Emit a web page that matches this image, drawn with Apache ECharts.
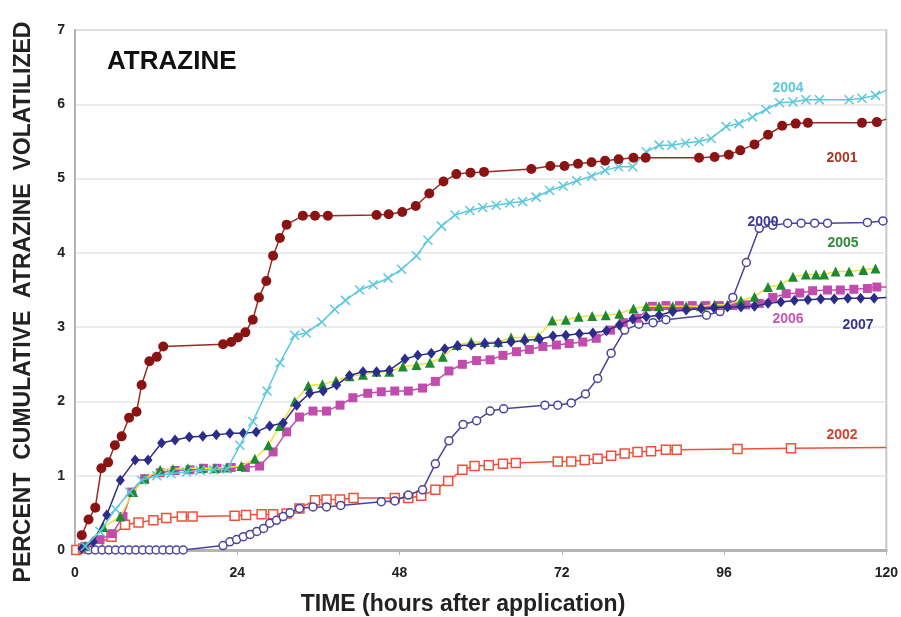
<!DOCTYPE html>
<html><head><meta charset="utf-8">
<script src="https://cdn.jsdelivr.net/npm/echarts@6/dist/echarts.min.js"></script>
<style>html,body{margin:0;padding:0;background:#fff}#c{width:901px;height:617px}</style>
</head><body><div id="c"></div>
<script>
// ---- data (hours after application, percent cumulative volatilized) ----
const xTicks = [0, 24, 48, 72, 96, 120];
const yTicks = [0, 1, 2, 3, 4, 5, 6, 7];

const h2001 = [1.0,2.0,3.0,3.9,4.9,5.9,6.9,8.0,9.1,9.85,11.0,12.1,13.05,21.9,23.1,24.1,25.2,26.3,27.2,28.3,29.3,30.3,31.3,33.7,35.5,37.4,44.6,46.4,48.4,50.4,52.4,54.5,56.4,58.5,60.5,67.5,70.3,72.4,74.4,76.4,78.4,80.4,82.6,84.4,92.3,94.6,96.7,98.4,100.5,102.5,104.6,106.6,108.4,116.4,118.6,120];
const v2001 = [0.2,0.41,0.57,1.1,1.18,1.41,1.53,1.78,1.86,2.22,2.54,2.6,2.74,2.77,2.8,2.86,2.93,3.1,3.4,3.62,3.96,4.2,4.38,4.5,4.5,4.5,4.51,4.52,4.55,4.63,4.8,4.96,5.06,5.08,5.09,5.13,5.17,5.17,5.2,5.22,5.24,5.26,5.28,5.28,5.28,5.29,5.32,5.38,5.46,5.59,5.71,5.74,5.75,5.75,5.76,5.8];

const h2004 = [1.5,3.7,6.0,8.1,9.85,12.1,14.2,16.5,18.5,20.5,22.5,24.4,26.3,28.4,30.3,32.5,34.2,36.5,38.4,40.0,42.1,44.1,46.3,48.3,50.5,52.2,54.2,56.2,58.4,60.3,62.3,64.3,66.2,68.2,70.2,72.2,74.2,76.4,78.4,80.4,82.5,84.5,86.4,88.3,90.3,92.3,94.1,96.3,98.2,100.2,102.2,104.2,106.2,108.1,110.1,114.5,116.4,118.4,120];
const v2004 = [0.05,0.25,0.55,0.78,0.94,1.0,1.03,1.05,1.07,1.08,1.09,1.41,1.73,2.14,2.52,2.89,2.92,3.07,3.24,3.36,3.5,3.57,3.66,3.78,3.96,4.17,4.36,4.51,4.57,4.61,4.64,4.67,4.69,4.75,4.84,4.9,4.97,5.03,5.11,5.16,5.16,5.36,5.45,5.45,5.48,5.5,5.54,5.7,5.74,5.83,5.93,6.02,6.03,6.06,6.06,6.06,6.08,6.12,6.19];

const h2000 = [2,3,4,5,6,7,8,9,10,11,12,13,14,15,16,21.9,22.9,23.9,24.9,25.9,26.9,27.9,28.8,29.8,30.8,31.8,33.2,35.2,37.2,39.3,45.3,47.3,49.3,51.4,53.3,55.3,57.4,59.4,61.4,63.4,69.5,71.4,73.4,75.5,77.3,79.3,81.3,83.4,85.5,87.4,93.4,95.4,97.3,99.3,101.2,103.2,105.4,107.4,109.4,111.3,117.2,119.5,120];
const v2000 = [0,0,0,0,0,0,0,0,0,0,0,0,0,0,0,0.06,0.11,0.14,0.18,0.21,0.25,0.29,0.36,0.4,0.45,0.5,0.56,0.58,0.58,0.6,0.65,0.66,0.74,0.81,1.16,1.47,1.69,1.74,1.87,1.9,1.95,1.95,1.98,2.1,2.31,2.65,2.96,3.04,3.06,3.1,3.16,3.21,3.4,3.87,4.33,4.37,4.4,4.4,4.4,4.4,4.41,4.43,4.44];

const h2002 = [0.2,1.2,3.4,5.4,7.4,9.4,11.6,13.5,15.8,17.4,23.6,25.3,27.6,29.3,31.3,33.2,35.5,37.2,39.2,41.2,47.3,49.3,51.2,53.3,55.2,57.3,59.1,61.2,63.3,65.2,71.4,73.4,75.4,77.3,79.3,81.3,83.2,85.2,87.4,89.0,98.0,105.9,120];
const v2002 = [0,0.02,0.08,0.18,0.34,0.37,0.4,0.43,0.45,0.45,0.46,0.47,0.48,0.48,0.49,0.56,0.67,0.68,0.68,0.7,0.7,0.7,0.73,0.81,0.93,1.08,1.13,1.14,1.16,1.17,1.19,1.19,1.21,1.23,1.27,1.3,1.32,1.33,1.35,1.35,1.36,1.37,1.38];

const h2007 = [1.0,2.7,4.7,6.7,8.9,10.8,12.8,14.8,16.9,18.9,20.9,22.9,24.9,26.8,28.8,30.8,32.8,34.7,36.7,38.7,40.6,42.6,44.6,46.5,48.8,50.7,52.7,54.7,56.6,58.6,60.6,62.6,64.5,66.5,68.7,70.7,72.6,74.6,76.6,78.6,80.5,82.5,84.5,86.4,88.4,90.4,92.6,94.5,96.5,98.5,100.5,102.5,104.4,106.4,108.4,110.3,112.3,114.3,116.2,118.2,120];
const v2007 = [0.02,0.11,0.47,0.94,1.21,1.21,1.44,1.48,1.52,1.53,1.55,1.57,1.57,1.59,1.67,1.71,1.95,2.11,2.14,2.22,2.35,2.4,2.4,2.42,2.57,2.62,2.65,2.71,2.75,2.76,2.78,2.79,2.8,2.82,2.84,2.88,2.89,2.91,2.92,2.95,3.03,3.11,3.14,3.16,3.21,3.23,3.25,3.26,3.27,3.27,3.28,3.32,3.34,3.36,3.37,3.38,3.38,3.39,3.39,3.39,3.4];

const h2005 = [1.5,4.2,6.7,8.6,10.3,12.6,14.5,16.7,18.7,20.7,22.4,24.6,26.6,28.6,30.3,32.5,34.5,36.6,38.6,40.6,42.6,44.6,46.5,48.5,50.5,52.5,54.4,56.5,58.6,60.6,62.6,64.5,66.5,68.5,70.6,72.6,74.5,76.5,78.5,80.5,82.6,84.5,86.4,88.4,90.4,92.6,94.6,96.5,98.5,100.5,102.5,104.4,106.2,108.1,109.6,110.8,112.5,114.5,116.6,118.4];
const v2005 = [0.05,0.31,0.45,0.78,0.96,1.08,1.09,1.1,1.1,1.1,1.11,1.13,1.23,1.41,1.67,2.0,2.21,2.23,2.28,2.34,2.36,2.4,2.4,2.47,2.49,2.52,2.6,2.76,2.8,2.8,2.8,2.86,2.86,2.87,3.09,3.1,3.14,3.15,3.16,3.18,3.25,3.28,3.28,3.28,3.28,3.28,3.3,3.3,3.36,3.41,3.54,3.57,3.68,3.71,3.71,3.71,3.75,3.75,3.77,3.79];

const h2006 = [1.5,3.7,5.5,7.1,8.4,10.3,12.6,14.8,17.0,19.0,21.0,23.1,25.2,27.3,29.3,31.3,33.2,35.2,37.2,39.2,41.1,43.3,45.3,47.3,49.3,51.4,53.3,55.3,57.3,59.4,61.4,63.3,65.3,67.2,69.2,71.2,73.1,75.1,77.1,79.2,81.1,83.1,85.4,87.4,89.4,91.3,93.3,95.3,97.3,99.2,101.2,103.2,105.2,107.2,109.1,111.3,113.2,115.2,117.2,118.6,120];
const v2006 = [0.05,0.14,0.22,0.45,0.78,0.96,1.04,1.07,1.08,1.1,1.1,1.11,1.11,1.13,1.32,1.59,1.79,1.87,1.87,1.95,2.05,2.11,2.13,2.14,2.14,2.18,2.27,2.41,2.5,2.55,2.56,2.62,2.67,2.7,2.74,2.76,2.78,2.8,2.85,2.96,3.06,3.12,3.28,3.29,3.29,3.29,3.29,3.29,3.29,3.3,3.32,3.4,3.45,3.46,3.49,3.5,3.5,3.51,3.52,3.54,3.54];

const chartTitle = 'ATRAZINE';
const xName = 'TIME (hours after application)';
const yName = 'PERCENT  CUMULATIVE  ATRAZINE  VOLATILIZED';

// ---- build ----
const FONT = '"Liberation Sans", Arial, sans-serif';
function pairs(h, v) {
  return h.map((x, i) => x >= 120 ? { value: [x, v[i]], symbol: 'none' } : [x, v[i]]);
}
function ser(name, h, v, o) {
  return {
    name, type: 'line', data: pairs(h, v), showSymbol: true, showAllSymbol: true,
    symbol: o.symbol, symbolSize: o.size,
    lineStyle: { color: o.line, width: 1.5 },
    itemStyle: o.item, z: o.z, animation: false
  };
}
const series = [
  ser('2002', h2002, v2002, { symbol: 'rect', size: 9, line: '#f0503a', item: { color: '#fff', borderColor: '#f0503a', borderWidth: 1.5 }, z: 2 }),
  ser('2000', h2000, v2000, { symbol: 'circle', size: 8, line: '#4b449c', item: { color: '#fff', borderColor: '#4b449c', borderWidth: 1.5 }, z: 3 }),
  ser('2006', h2006, v2006, { symbol: 'rect', size: 9, line: '#c24cae', item: { color: '#c24cae' }, z: 4 }),
  ser('2005', h2005, v2005, { symbol: 'triangle', size: 10, line: '#efe13a', item: { color: '#1e8a30' }, z: 5 }),
  ser('2007', h2007, v2007, { symbol: 'diamond', size: [9, 11], line: '#2c2c8a', item: { color: '#2c2c8a' }, z: 6 }),
  ser('2004', h2004, v2004, { symbol: 'path://M0,0L10,10M10,0L0,10', size: 9, line: '#5cc8dd', item: { color: 'rgba(0,0,0,0)', borderColor: '#5cc8dd', borderWidth: 1.5 }, z: 7 }),
  ser('2001', h2001, v2001, { symbol: 'circle', size: 10, line: '#9a2a24', item: { color: '#8a1414' }, z: 8 })
];

const seriesLabels = [
  { text: '2004', x: 788, y: 88, color: '#5cc8dd' },
  { text: '2001', x: 842, y: 158, color: '#a6392a' },
  { text: '2000', x: 763, y: 222, color: '#3e3a98' },
  { text: '2005', x: 843, y: 243, color: '#2e8c3a' },
  { text: '2006', x: 788, y: 319, color: '#c656b4' },
  { text: '2007', x: 858, y: 325, color: '#34348e' },
  { text: '2002', x: 842, y: 435, color: '#d4402e' }
];

const graphic = [
  { type: 'text', x: 107, y: 62, style: { text: chartTitle, font: 'bold 26px ' + FONT, fill: '#111', textVerticalAlign: 'middle' }, z: 20 },
  { type: 'text', x: 463, y: 605, style: { text: xName, font: 'bold 23px ' + FONT, fill: '#222', textAlign: 'center', textVerticalAlign: 'middle' }, z: 20 },
  { type: 'text', x: 24, y: 302, rotation: Math.PI / 2, style: { text: yName, font: 'bold 23px ' + FONT, fill: '#222', textAlign: 'center', textVerticalAlign: 'middle' }, z: 20 }
].concat(seriesLabels.map(l => ({
  type: 'text', x: l.x, y: l.y, style: { text: l.text, font: 'bold 14px ' + FONT, fill: l.color, textAlign: 'center', textVerticalAlign: 'middle' }, z: 20
})));

const chart = echarts.init(document.getElementById('c'), null, { renderer: 'canvas' });
chart.setOption({
  animation: false,
  backgroundColor: '#fff',
  grid: { left: 75, right: 14, top: 30, bottom: 67, show: true, borderColor: '#c8c8c8', borderWidth: 2, backgroundColor: 'transparent' },
  xAxis: {
    type: 'value', min: xTicks[0], max: xTicks[xTicks.length - 1], interval: 24,
    axisLine: { show: true, lineStyle: { color: '#b4b4b4', width: 3 } },
    axisTick: { show: true, length: 5, lineStyle: { color: '#b4b4b4', width: 1 } },
    axisLabel: { fontFamily: FONT, fontWeight: 'bold', fontSize: 14, color: '#222', margin: 16 },
    splitLine: { show: false }
  },
  yAxis: {
    type: 'value', min: yTicks[0], max: yTicks[yTicks.length - 1], interval: 1,
    axisLine: { show: true, lineStyle: { color: '#b4b4b4', width: 2 } },
    axisTick: { show: false },
    axisLabel: { fontFamily: FONT, fontWeight: 'bold', fontSize: 14, color: '#222', margin: 10 },
    splitLine: { show: true, lineStyle: { color: '#e6e6e6', width: 1.5 } }
  },
  series,
  graphic
});
</script></body></html>
